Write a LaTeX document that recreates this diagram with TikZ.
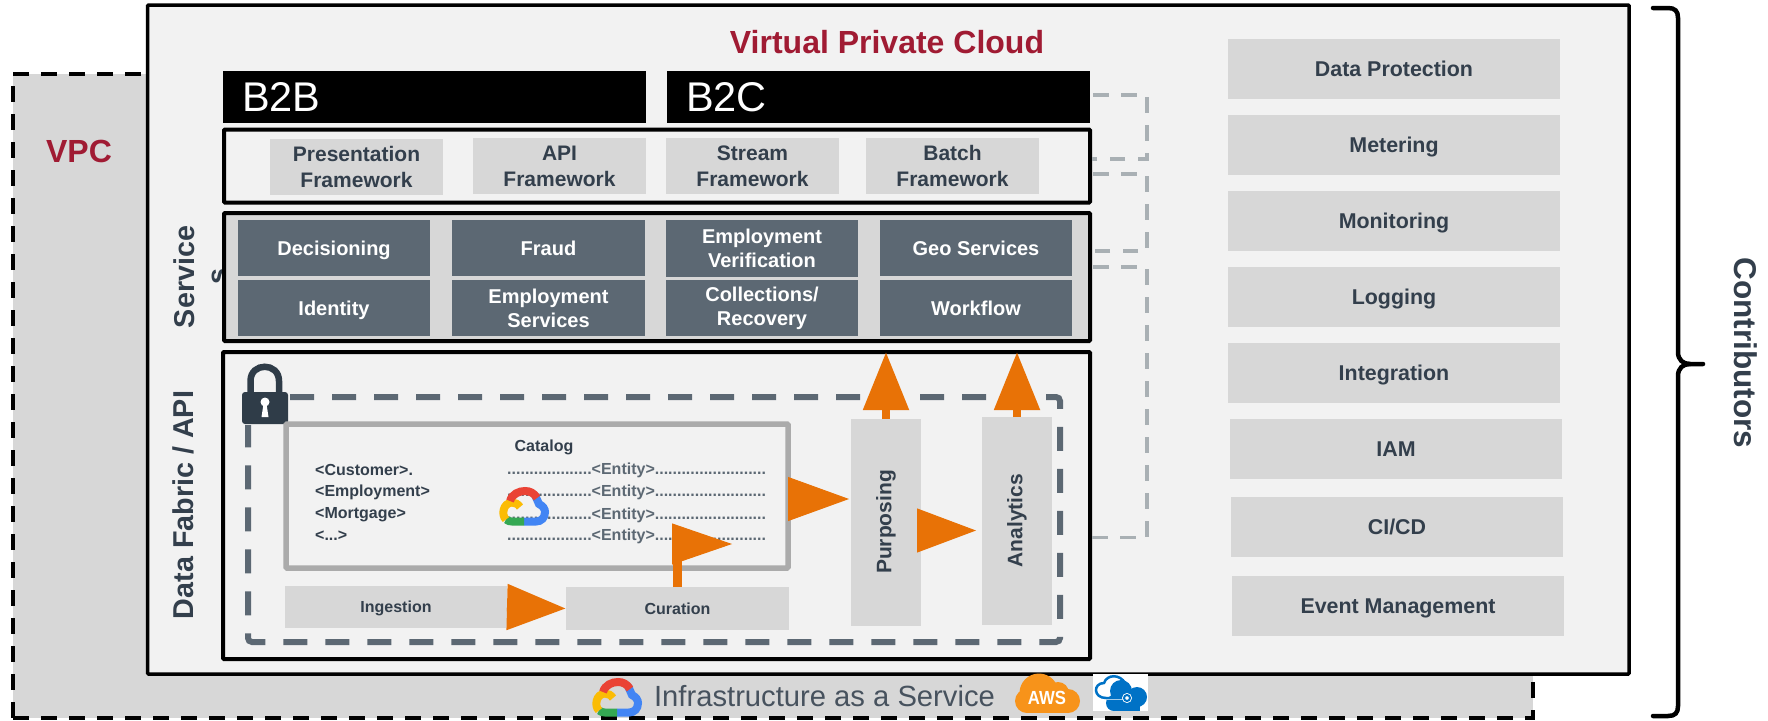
\documentclass[tikz,border=0pt]{standalone}
\usepackage{fontspec}
\setmainfont{Liberation Sans}
\usetikzlibrary{arrows.meta}
\definecolor{boxgray}{HTML}{D7D7D7}
\definecolor{panelgray}{HTML}{F2F2F2}
\definecolor{slate}{HTML}{5C6873}
\definecolor{inkblue}{HTML}{333F4C}
\definecolor{lockdark}{HTML}{2F3C48}
\definecolor{wine}{HTML}{A01B33}
\definecolor{arroworange}{HTML}{E87206}
\definecolor{linkgray}{HTML}{A9B0B4}
\definecolor{gred}{HTML}{EA4335}
\definecolor{gblue}{HTML}{4285F4}
\definecolor{ggreen}{HTML}{34A853}
\definecolor{gyellow}{HTML}{FBBC05}
\definecolor{awsorange}{HTML}{F7931A}
\definecolor{azblue}{HTML}{0072C6}
\tikzset{
  panel/.style={draw=black, fill=panelgray, line width=4pt, inner sep=0pt, outer sep=0pt, rounded corners=1pt},
  oneline/.style={text height=#1, text depth=0pt},
  graybox/.style={fill=boxgray, inner sep=0pt, outer sep=0pt, align=center, text=inkblue, font=\fontsize{21}{26}\selectfont\bfseries},
  sidebox/.style={graybox, oneline=15.4pt, minimum width=332pt, minimum height=60pt, font=\fontsize{21.4}{24}\selectfont\bfseries},
  framebox/.style={graybox, minimum width=173pt, minimum height=56pt},
  darkbox/.style={fill=slate, inner sep=0pt, outer sep=0pt, align=center, text=white, minimum height=56pt, font=\fontsize{20}{24}\selectfont\bfseries},
  blackbar/.style={fill=black, inner sep=0pt, outer sep=0pt, minimum width=423pt, minimum height=52pt},
  barlabel/.style={text=white, inner sep=0pt, anchor=west, font=\fontsize{41.5}{48}\selectfont},
  sidelabel/.style={text=inkblue, inner sep=0pt, align=center, font=\fontsize{28.7}{33}\selectfont\bfseries},
  winelabel/.style={text=wine, inner sep=0pt, font=\fontsize{32}{36}\selectfont\bfseries},
  catalogtext/.style={text=inkblue, inner sep=0pt, anchor=west, font=\fontsize{16}{19}\selectfont\bfseries},
  entityline/.style={catalogtext, text=slate},
  bigarrow/.style={draw=arroworange, line width=8.5pt, -{Triangle[length=59pt,width=44pt,fill=arroworange]}},
  stemline/.style={draw=arroworange, line width=8.5pt},
  linkline/.style={draw=linkgray, line width=3.5pt, dash pattern=on 15.5pt off 12.5pt},
  gcloud/.pic={
    \draw[line width=8pt, draw=gblue] (35,8) -- (39,17) .. controls (43,19) and (45,22) .. (45,25) .. controls (45,31) and (41,34.5) .. (36,34.5) -- (24,34.5);
    \draw[line width=8pt, draw=ggreen] (24,34.5) -- (12,34.5) .. controls (10,34.5) and (8,34) .. (6,32.5);
    \draw[line width=8pt, draw=gyellow] (6,32.5) .. controls (1,28) and (3,16) .. (12,15.5) .. controls (15,15.5) and (18,17) .. (20,20);
    \draw[line width=8pt, draw=gred] (10,14) .. controls (12,7) and (19,4) .. (25,4) .. controls (30,4) and (34,6) .. (37,11);
  },
  awscloud/.pic={
    \fill[awsorange] (24,20) circle (19.5);
    \fill[awsorange] (12,28) circle (12);
    \fill[awsorange] (53,28) circle (12);
    \fill[awsorange] (43,20) circle (11);
    \fill[awsorange] (12,22) rectangle (53,40);
  },
  azcloud/.pic={
    \fill[azblue] (27,16) circle (11);
    \fill[azblue] (43,22) circle (10);
    \fill[azblue] (20,28) circle (8);
    \fill[azblue] (20,24) rectangle (46,36);
    \draw[line width=3pt, white] (10,23) -- (34,23);
    \draw[line width=2.5pt, azblue] (33,23) -- (12,23) .. controls (-1,23) and (-1,8) .. (10,8) .. controls (13,-1) and (26,-1) .. (31,8);
    \fill[white] (33,23) circle (5);
    \draw[line width=2pt, azblue] (33,23) circle (3);
  }
}
\begin{document}
\begin{tikzpicture}[x=1pt, y=-1pt]
    \useasboundingbox (0,0) rectangle (1768,720);
    \node[draw=black, fill=boxgray, line width=4pt, dash pattern=on 16pt off 12pt, inner sep=0pt, minimum width=1520pt, minimum height=644pt] (vpc) at (773,396) {};
    \node[winelabel] (vpclabel) at (79,151) {VPC};
    \node[panel, line width=3.5pt, minimum width=1481.5pt, minimum height=669pt] (cloud) at (888.25,339.5) {};
    \node[winelabel] (cloudlabel) at (887,42) {Virtual Private Cloud};

    \node[blackbar] (b2b) at (434.5,97) {};
    \node[blackbar] (b2c) at (878.5,97) {};
    \node[barlabel] (b2blabel) at (242,97.5) {B2B};
    \node[barlabel] (b2clabel) at (686,97.5) {B2C};

    \node[panel, minimum width=866pt, minimum height=73pt] (frame) at (657,166) {};
    \node[framebox] (present) at (356.5,167) {Presentation\\Framework};
    \node[framebox] (api) at (559.5,166) {API\\Framework};
    \node[framebox] (stream) at (752.5,166) {Stream\\Framework};
    \node[framebox] (batch) at (952.5,166) {Batch\\Framework};

    \node[sidelabel, rotate=90] (servlabel) at (201,277) {Service\\s};
    \node[panel, fill=boxgray, minimum width=866pt, minimum height=128pt] (serv) at (657,277) {};
    \node[darkbox, oneline=14.4pt, minimum width=192pt] (decide) at (334,248) {Decisioning};
    \node[darkbox, oneline=14.4pt, minimum width=193pt] (fraud) at (548.5,248) {Fraud};
    \node[darkbox, minimum width=192pt, minimum height=57pt] (verify) at (762,248.5) {Employment\\Verification};
    \node[darkbox, oneline=14.4pt, minimum width=192pt] (geo) at (976,248) {Geo Services};
    \node[darkbox, oneline=14.4pt, minimum width=192pt] (identity) at (334,308) {Identity};
    \node[darkbox, minimum width=193pt] (empserv) at (548.5,308) {Employment\\Services};
    \node[darkbox, minimum width=192pt] (recover) at (762,308) {Collections/\\Recovery};
    \node[darkbox, oneline=14.4pt, minimum width=192pt] (workflow) at (976,308) {Workflow};

    \node[sidelabel, rotate=90] (fablabel) at (183.5,505) {Data Fabric / API};
    \node[panel, minimum width=867pt, minimum height=307pt] (fabric) at (656.5,505.5) {};
    \draw[draw=slate, line width=6pt, dash pattern=on 24pt off 18pt, rounded corners=4pt] (290,397) -- (1060,397) -- (1060,642) -- (248,642) -- (248,425);

    \draw[draw=lockdark, line width=6.5pt] (250.5,393) -- (250.5,381) .. controls (250.5,362) and (279,362) .. (279,381) -- (279,393);
    \node[fill=lockdark, rounded corners=3pt, inner sep=0pt, minimum width=46pt, minimum height=32pt] (lock) at (265,408) {};
    \fill[white] (265,402) circle (4.5);
    \fill[white] (263.5,404) -- (261.5,417) -- (268.5,417) -- (266.5,404) -- cycle;

    \node[draw=black!33, fill=panelgray, line width=5.5pt, inner sep=0pt, outer sep=0pt, rounded corners=1pt, minimum width=502pt, minimum height=144pt] (catalog) at (537,496) {};
    \node[catalogtext, anchor=center] (catlabel) at (544,447) {Catalog};
    \node[catalogtext] (customer) at (315,470) {<Customer>.};
    \node[catalogtext] (employ) at (315,492) {<Employment>};
    \node[catalogtext] (mortgage) at (315,515) {<Mortgage>};
    \node[catalogtext] (etc) at (315,536) {<...>};
    \node[entityline] (entitya) at (507,470) {...................<Entity>.........................};
    \node[entityline] (entityb) at (507,492) {...................<Entity>.........................};
    \node[entityline] (entityc) at (507,515) {...................<Entity>.........................};
    \node[entityline] (entityd) at (507,536) {...................<Entity>.........................};
    \pic (catcloud) at (500,487) {gcloud};

    \node[graybox, oneline=11.5pt, minimum width=222pt, minimum height=42pt, font=\fontsize{16}{19}\selectfont\bfseries] (ingest) at (396,607) {Ingestion};
    \node[graybox, oneline=11.5pt, minimum width=223pt, minimum height=43pt, font=\fontsize{16}{19}\selectfont\bfseries] (curate) at (677.5,608.5) {Curation};
    \node[graybox, minimum width=70pt, minimum height=207pt] (purpose) at (886,522.5) {};
    \node[graybox, minimum width=70pt, minimum height=208pt] (analytic) at (1017,521) {};
    \node[text=inkblue, inner sep=0pt, rotate=90, font=\fontsize{21}{26}\selectfont\bfseries] (purplabel) at (886,522) {Purposing};
    \node[text=inkblue, inner sep=0pt, rotate=90, font=\fontsize{21}{26}\selectfont\bfseries] (analabel) at (1017,520.5) {Analytics};

    \coordinate (catbase) at (672,544);
    \coordinate (cattip) at (732,544);
    \draw[bigarrow] (ingest.east) -- (curate.west);
    \draw[stemline] (curate.north) -- (curate.north |- catbase);
    \draw[bigarrow, -{Triangle[length=60pt,width=41pt,fill=arroworange]}, line width=1pt] (catbase) -- (cattip);
    \draw[bigarrow, -{Triangle[length=61pt,width=44pt,fill=arroworange]}, line width=1pt, shorten >=2pt] ([yshift=-3pt]catalog.east) -- ([yshift=-3pt]catalog.east -| purpose.west);
    \draw[bigarrow, line width=1pt, shorten >=6pt, shorten <=-5pt] ([yshift=-8pt]purpose.center -| purpose.east) -- ([yshift=-8pt]purpose.center -| analytic.west);
    \draw[bigarrow, -{Triangle[length=58pt,width=44pt,fill=arroworange]}] (purpose.north) -- (purpose.north |- fabric.north);
    \draw[bigarrow, -{Triangle[length=58pt,width=44pt,fill=arroworange]}] (analytic.north) -- (analytic.north |- fabric.north);

    \draw[linkline] ([xshift=3pt,yshift=2pt]b2c.east) -- ++(54,0) |- ([xshift=2pt,yshift=7pt]frame.east);
    \draw[linkline] ([xshift=3pt,yshift=-8pt]frame.east) -- ++(54,0) |- ([xshift=2pt,yshift=26pt]serv.east);
    \draw[linkline] ([xshift=3pt,yshift=10pt]serv.east) -- ++(54,0) |- ([xshift=1pt,yshift=-32pt]fabric.east);

    \node[sidebox] (protect) at (1394,69) {Data Protection};
    \node[sidebox] (meter) at (1394,145) {Metering};
    \node[sidebox] (monitor) at (1394,221) {Monitoring};
    \node[sidebox] (logs) at (1394,297) {Logging};
    \node[sidebox] (integrate) at (1394,373) {Integration};
    \node[sidebox] (iam) at (1396,449) {IAM};
    \node[sidebox] (cicd) at (1397,527) {CI/CD};
    \node[sidebox] (event) at (1398,606) {Event Management};

    \node[text=inkblue!90!white, inner sep=0pt, font=\fontsize{29.2}{34}\selectfont] (infra) at (824.5,696) {Infrastructure as a Service};
    \pic (infracloud) at (593,678) {gcloud};
    \pic (aws) at (1015,673) {awscloud};
    \node[text=white, inner sep=0pt, xscale=.88, font=\fontsize{19}{22}\selectfont\bfseries] (awslabel) at (1047,698) {AWS};
    \node[fill=white, inner sep=0pt, minimum width=55pt, minimum height=37pt] (azback) at (1120.5,692.5) {};
    \pic (azure) at (1094,675) {azcloud};

    \coordinate (bracetop) at (1653,8);
    \coordinate (bracebot) at (1653,716);
    \coordinate (bracetip) at (1703,364);
    \draw[line width=4.5pt, line cap=round] (bracetop) -- (1668,8) .. controls (1675,8) and (1678,11) .. (1678,18) -- (1678,352) .. controls (1678,360) and (1683,364) .. (1690,364) -- (bracetip);
    \draw[line width=4.5pt, line cap=round] (bracebot) -- (1668,716) .. controls (1675,716) and (1678,713) .. (1678,706) -- (1678,376) .. controls (1678,368) and (1683,364) .. (1690,364);
    \node[sidelabel, rotate=-90, font=\fontsize{31.5}{36}\selectfont\bfseries] (contrib) at (1746,353) {Contributors};
\end{tikzpicture}
\end{document}
